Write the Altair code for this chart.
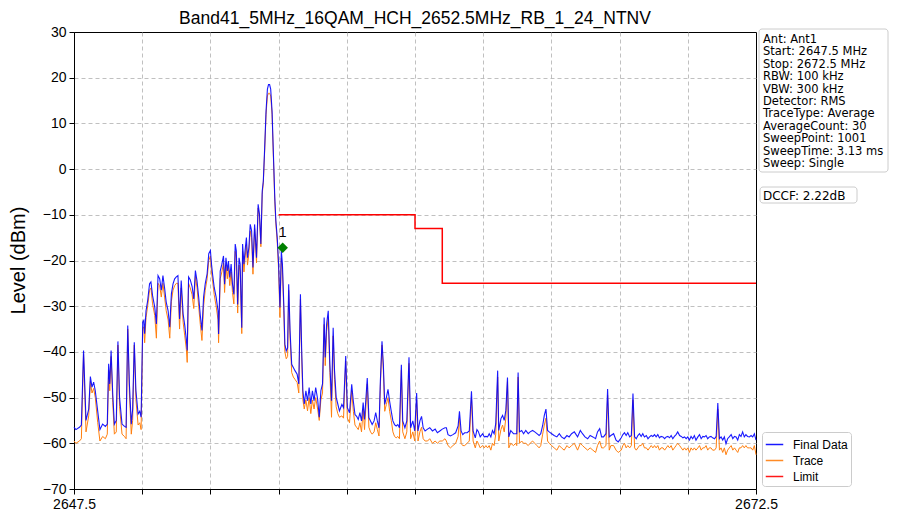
import altair as alt
import pandas as pd

TITLE = "Band41_5MHz_16QAM_HCH_2652.5MHz_RB_1_24_NTNV"
FONT = "Liberation Sans"
BOX_FONT = "DejaVu Sans"

# ---- spectrum (MHz, dBm) ----
FREQ_A = [2647.50, 2647.57, 2647.70, 2647.77, 2647.85, 2647.94, 2648.04, 2648.10, 2648.16, 2648.22,
          2648.28, 2648.37, 2648.45, 2648.55, 2648.65, 2648.72, 2648.77, 2648.81, 2648.86, 2648.92,
          2648.98, 2649.05, 2649.11, 2649.17, 2649.26, 2649.35, 2649.41, 2649.47, 2649.53, 2649.60,
          2649.65, 2649.71, 2649.77, 2649.85, 2649.91, 2649.96, 2650.02, 2650.06, 2650.09, 2650.14,
          2650.20, 2650.27, 2650.32, 2650.38, 2650.46, 2650.52, 2650.58, 2650.64, 2650.70, 2650.76,
          2650.82, 2650.88, 2650.95, 2651.01, 2651.07, 2651.13, 2651.19, 2651.25, 2651.31, 2651.37,
          2651.43, 2651.50, 2651.56, 2651.62, 2651.65, 2651.70, 2651.76, 2651.83, 2651.89, 2651.95,
          2652.01, 2652.07, 2652.13, 2652.19, 2652.25, 2652.31, 2652.38, 2652.44, 2652.50]
FINAL_A = [-56.5, -57.0, -56.5, -56.0, -39.7, -55.0, -52.5, -45.4, -47.7, -46.6,
           -48.5, -53.0, -57.0, -55.8, -56.3, -55.8, -42.6, -47.0, -39.7, -49.2,
           -55.8, -55.0, -37.7, -50.0, -55.8, -56.3, -56.5, -34.2, -47.0, -55.8,
           -52.5, -37.9, -48.5, -53.6, -53.0, -54.3, -33.5, -33.1, -36.0, -31.0,
           -28.8, -25.1, -24.7, -27.7, -30.2, -33.9, -23.3, -24.0, -26.5, -23.3,
           -26.0, -29.1, -31.0, -34.6, -27.3, -25.1, -24.0, -23.6, -23.3, -32.8,
           -24.4, -31.7, -34.2, -37.5, -39.7, -23.6, -24.2, -25.7, -28.4, -22.2,
           -24.5, -28.0, -32.0, -35.3, -28.0, -25.1, -22.9, -18.5, -17.8]
TRACE_A = [-59.5, -60.0, -59.5, -59.0, -40.5, -57.5, -54.0, -46.5, -49.0, -48.0,
           -50.0, -55.5, -59.5, -58.5, -59.0, -58.0, -44.0, -48.5, -41.0, -51.0,
           -58.0, -57.5, -38.5, -52.0, -58.0, -58.5, -59.0, -35.0, -49.0, -58.0,
           -55.0, -38.5, -50.5, -56.0, -55.5, -57.0, -35.0, -34.5, -38.0, -32.5,
           -30.0, -26.5, -26.0, -29.5, -32.0, -37.0, -25.0, -25.5, -28.0, -25.0,
           -28.0, -31.0, -33.0, -37.0, -29.0, -26.5, -25.5, -25.0, -25.0, -35.0,
           -26.0, -33.5, -36.5, -39.5, -42.3, -25.0, -26.0, -27.5, -30.5, -23.5,
           -26.0, -30.0, -34.0, -37.5, -30.0, -26.5, -24.0, -20.0, -19.0]

FREQ_B = [2652.54, 2652.58, 2652.64, 2652.71, 2652.78, 2652.80, 2652.86, 2652.92, 2652.98, 2653.02,
          2653.07, 2653.12, 2653.16, 2653.21, 2653.26, 2653.31, 2653.36, 2653.41, 2653.45, 2653.50,
          2653.55, 2653.59, 2653.65, 2653.68, 2653.73, 2653.77, 2653.82, 2653.86, 2653.91, 2653.96,
          2654.01, 2654.06, 2654.12, 2654.15, 2654.19, 2654.25, 2654.30, 2654.35, 2654.40, 2654.44,
          2654.49, 2654.54, 2654.59, 2654.63, 2654.67, 2654.71, 2654.76, 2654.81, 2654.86, 2654.90,
          2654.95, 2655.00, 2655.05, 2655.10, 2655.14, 2655.19, 2655.23, 2655.28, 2655.33, 2655.37,
          2655.42, 2655.48, 2655.54, 2655.60, 2655.68, 2655.74, 2655.80, 2655.85, 2655.89, 2655.94,
          2656.00, 2656.06, 2656.12, 2656.18, 2656.24, 2656.30, 2656.36, 2656.43, 2656.49, 2656.55,
          2656.61, 2656.67, 2656.71, 2656.76, 2656.82, 2656.88, 2656.94, 2657.00, 2657.05, 2657.11,
          2657.17, 2657.23]
FINAL_B = [-20.8, -23.0, -25.9, -28.0, -31.0, -36.1, -22.3, -20.8, -19.0, -25.2,
           -19.4, -22.3, -20.1, -23.7, -20.8, -25.2, -27.4, -16.4, -17.9, -29.6,
           -19.4, -20.8, -34.7, -16.4, -20.8, -17.9, -15.0, -19.4, -17.2, -12.1,
           -13.5, -21.5, -12.1, -15.0, -19.4, -7.7, -9.9, -16.4, -4.8, -2.6,
           4.7, 12.7, 17.5, 18.5, 18.5, 17.5, 12.7, 3.2, -6.2, -11.3,
           -15.0, -20.8, -30.3, -17.9, -20.8, -29.6, -38.3, -39.8, -39.1, -25.2,
           -35.4, -42.7, -43.4, -44.1, -44.9, -47.0, -27.4, -40.5, -48.5, -51.4,
           -48.5, -50.7, -47.8, -51.4, -48.5, -50.7, -47.8, -50.3, -54.3, -48.5,
           -47.0, -32.5, -41.2, -33.9, -31.0, -42.7, -50.7, -34.7, -44.1, -49.9,
           -51.4, -52.9]
TRACE_B = [-22.5, -24.5, -27.5, -30.0, -33.0, -38.0, -24.0, -22.5, -20.5, -27.0,
           -21.0, -24.0, -21.5, -25.5, -22.5, -27.0, -29.5, -18.0, -19.5, -31.5,
           -21.0, -22.5, -36.0, -18.0, -22.5, -19.5, -16.5, -21.0, -18.5, -13.5,
           -15.0, -23.0, -13.0, -16.0, -20.5, -8.5, -10.5, -17.0, -5.5, -3.0,
           4.0, 12.0, 16.0, 16.6, 16.6, 16.0, 12.0, 2.5, -7.0, -12.0,
           -16.0, -22.0, -32.5, -19.5, -22.0, -31.0, -40.0, -41.5, -41.0, -26.5,
           -37.0, -44.5, -45.5, -46.0, -46.7, -49.0, -28.5, -42.0, -50.5, -52.5,
           -50.5, -52.9, -50.0, -53.5, -50.5, -52.5, -50.0, -52.5, -55.0, -50.5,
           -49.0, -34.0, -43.0, -35.5, -32.5, -44.5, -54.3, -36.5, -46.0, -52.0,
           -53.5, -54.3]

FREQ_C = [2657.32, 2657.38, 2657.46, 2657.52, 2657.60, 2657.68, 2657.74, 2657.80, 2657.86, 2657.92,
          2657.98, 2658.04, 2658.10, 2658.15, 2658.25, 2658.31, 2658.37, 2658.43, 2658.50, 2658.56,
          2658.62, 2658.68, 2658.73, 2658.79, 2658.84, 2658.89, 2658.95, 2659.01, 2659.07, 2659.13,
          2659.19, 2659.25, 2659.31, 2659.37, 2659.43, 2659.50, 2659.55, 2659.63, 2659.70, 2659.78,
          2659.84, 2659.92, 2659.99, 2660.06, 2660.11, 2660.18, 2660.24, 2660.30, 2660.37, 2660.46,
          2660.54, 2660.64, 2660.74, 2660.82, 2660.91, 2661.00, 2661.10, 2661.15, 2661.21, 2661.30,
          2661.39, 2661.49, 2661.58, 2661.63, 2661.69, 2661.75, 2661.82, 2661.91, 2661.99, 2662.07,
          2662.13, 2662.21, 2662.27]
FINAL_C = [-51.5, -52.2, -40.9, -52.2, -53.3, -47.1, -50.8, -53.7, -54.1, -54.8,
           -53.3, -55.1, -51.1, -54.8, -45.7, -54.4, -55.1, -55.9, -55.1, -53.3,
           -55.1, -56.6, -46.4, -37.7, -42.8, -51.5, -50.0, -48.2, -50.8, -53.0,
           -55.1, -55.9, -56.2, -55.9, -56.6, -42.8, -55.1, -56.6, -55.1, -41.2,
           -56.6, -55.1, -57.3, -49.0, -57.3, -55.1, -54.1, -56.6, -57.3, -56.9,
           -56.6, -57.3, -56.9, -57.7, -57.3, -56.9, -56.6, -56.6, -58.1, -58.4,
           -58.1, -57.7, -56.2, -53.0, -57.3, -58.1, -57.7, -57.7, -57.3, -48.6,
           -57.3, -58.8, -57.0]
TRACE_C = [-54.0, -54.5, -42.0, -54.5, -55.5, -48.5, -53.0, -56.0, -56.5, -57.0,
           -55.5, -57.5, -52.5, -57.0, -47.0, -56.5, -57.5, -58.0, -57.5, -55.5,
           -57.0, -58.4, -47.5, -38.5, -44.0, -53.0, -51.5, -50.0, -53.0, -55.0,
           -57.5, -58.5, -58.8, -58.5, -59.0, -44.0, -57.5, -59.0, -57.5, -42.5,
           -59.0, -57.5, -59.5, -50.5, -59.5, -57.5, -56.5, -59.0, -59.5, -59.5,
           -59.0, -60.0, -59.5, -60.0, -59.5, -59.5, -59.0, -59.5, -60.5, -61.0,
           -60.5, -60.0, -58.5, -54.5, -60.0, -60.5, -60.5, -60.0, -59.5, -50.0,
           -59.5, -61.0, -59.5]

FREQ_D = [2662.32, 2662.39, 2662.48, 2662.54, 2662.60, 2662.66, 2662.72, 2662.78, 2662.84, 2662.90,
          2662.96, 2663.03, 2663.07, 2663.15, 2663.21, 2663.27, 2663.33, 2663.39, 2663.44, 2663.51,
          2663.61, 2663.69, 2663.73, 2663.78, 2663.83, 2663.91, 2663.98, 2664.06, 2664.15, 2664.22,
          2664.31, 2664.39, 2664.47, 2664.55, 2664.61, 2664.68, 2664.74, 2664.80, 2664.86, 2664.92,
          2665.01, 2665.10, 2665.20, 2665.29, 2665.37, 2665.47, 2665.57, 2665.65, 2665.74, 2665.84,
          2665.96, 2666.06, 2666.14, 2666.23, 2666.33, 2666.42, 2666.52, 2666.62, 2666.69, 2666.77,
          2666.84, 2666.91, 2667.00, 2667.06, 2667.12, 2667.18, 2667.28, 2667.37, 2667.45]
FINAL_D = [-57.4, -58.6, -57.9, -58.6, -58.5, -58.6, -57.9, -58.6, -57.2, -57.9,
           -55.7, -44.1, -57.2, -54.6, -53.9, -55.0, -52.8, -45.6, -58.6, -57.2,
           -57.9, -57.9, -57.9, -44.5, -57.5, -57.2, -57.9, -57.2, -57.9, -57.5,
           -57.2, -57.5, -57.9, -58.3, -57.9, -56.1, -53.9, -52.5, -57.2, -57.5,
           -57.9, -58.3, -58.6, -57.9, -58.6, -59.0, -58.3, -58.6, -57.9, -57.5,
           -58.6, -57.2, -57.9, -58.6, -59.0, -58.3, -58.6, -59.0, -57.5, -56.8,
           -58.6, -58.6, -57.9, -48.1, -58.6, -58.3, -57.9, -59.3, -59.7]
TRACE_D = [-60.0, -61.0, -60.5, -61.0, -60.5, -61.0, -60.5, -61.5, -60.0, -60.5,
           -58.0, -45.5, -59.5, -57.0, -56.0, -57.5, -54.5, -46.5, -61.0, -60.0,
           -60.5, -60.0, -60.5, -45.5, -60.0, -59.5, -60.0, -60.0, -60.5, -60.0,
           -59.5, -60.0, -60.5, -61.0, -60.5, -58.0, -56.0, -54.5, -59.5, -60.0,
           -60.5, -61.0, -61.5, -60.5, -61.0, -61.5, -60.5, -61.0, -60.5, -60.0,
           -61.5, -60.0, -60.5, -61.0, -61.5, -61.0, -61.5, -62.0, -60.5, -59.5,
           -61.0, -61.0, -60.5, -49.5, -61.5, -60.5, -60.5, -61.5, -62.0]

FREQ_E = [2667.56, 2667.62, 2667.68, 2667.74, 2667.80, 2667.87, 2667.93, 2667.99,
          2668.05, 2668.11, 2668.17, 2668.23, 2668.29, 2668.35, 2668.41, 2668.48,
          2668.54, 2668.60, 2668.66, 2668.72, 2668.78, 2668.84, 2668.90, 2668.96,
          2669.02, 2669.09, 2669.15, 2669.21, 2669.27, 2669.33, 2669.39, 2669.45,
          2669.51, 2669.57, 2669.63, 2669.70, 2669.76, 2669.82, 2669.88, 2669.94,
          2670.00, 2670.06, 2670.12, 2670.18, 2670.24, 2670.30, 2670.37, 2670.43,
          2670.49, 2670.55, 2670.61, 2670.67, 2670.73, 2670.79, 2670.85, 2670.91, 2670.98,
          2671.04, 2671.10, 2671.16, 2671.22, 2671.28, 2671.34, 2671.40, 2671.46,
          2671.52, 2671.59, 2671.65, 2671.71, 2671.77, 2671.83, 2671.89, 2671.95,
          2672.01, 2672.07, 2672.13, 2672.19, 2672.26, 2672.32, 2672.38, 2672.44, 2672.50]
FINAL_E = [-58.8, -58.1, -57.7, -58.3, -57.7, -58.6, -58.3, -49.1,
           -58.6, -59.0, -58.3, -57.9, -58.5, -57.9, -58.6, -58.3,
           -59.0, -58.6, -58.3, -58.5, -58.1, -58.6, -58.1, -58.8,
           -58.5, -58.6, -59.0, -58.6, -58.5, -58.8, -58.3, -59.0,
           -58.5, -58.1, -57.5, -58.3, -58.5, -58.8, -58.6, -59.0,
           -58.6, -59.3, -58.5, -59.0, -58.3, -59.3, -58.6, -58.1,
           -59.0, -58.5, -58.6, -58.3, -59.0, -58.6, -58.5, -58.8, -59.0,
           -58.5, -51.2, -59.0, -58.6, -59.3, -58.6, -60.1, -59.0,
           -58.6, -58.1, -59.0, -58.5, -58.6, -59.3, -58.1, -58.5,
           -57.5, -58.6, -58.1, -58.5, -58.6, -58.3, -58.6, -57.9, -59.3]
TRACE_E = [-61.5, -60.5, -60.0, -61.0, -60.5, -61.0, -60.5, -50.5,
           -61.0, -61.5, -61.0, -60.5, -60.5, -60.0, -61.0, -61.0,
           -61.5, -61.0, -60.5, -61.0, -60.5, -61.0, -60.5, -61.5,
           -61.0, -61.0, -61.5, -61.0, -60.5, -61.0, -60.5, -61.5,
           -61.0, -60.5, -60.0, -60.5, -61.0, -61.5, -61.0, -61.5,
           -61.0, -62.0, -61.0, -61.5, -61.0, -61.5, -61.0, -60.5,
           -61.5, -61.0, -61.0, -60.5, -61.5, -61.0, -61.0, -61.5, -61.5,
           -61.0, -52.5, -61.5, -61.0, -62.0, -61.0, -62.5, -61.5,
           -61.0, -60.5, -61.5, -61.0, -61.5, -62.0, -61.0, -61.0,
           -60.5, -61.0, -60.5, -61.0, -61.0, -61.0, -61.5, -60.5, -62.5]

FREQ = FREQ_A + FREQ_B + FREQ_C + FREQ_D + FREQ_E
FINAL = FINAL_A + FINAL_B + FINAL_C + FINAL_D + FINAL_E
TRACE = TRACE_A + TRACE_B + TRACE_C + TRACE_D + TRACE_E
assert len(FREQ) == len(FINAL) == len(TRACE)

LIMIT_FREQ = [2655.0, 2660.0, 2661.0, 2672.5]
LIMIT_LEVEL = [-10.0, -13.0, -25.0, -25.0]

MARKER_FREQ = [2655.15]
MARKER_LEVEL = [-17.2]
MARKER_LABEL = ["1"]

SERIES = ["Final Data", "Trace", "Limit"]
COLORS = ["#0000ff", "#ff7f0e", "#ff0000"]

X_TICKS = [2647.5, 2650.0, 2652.5, 2655.0, 2657.5, 2660.0, 2662.5, 2665.0, 2667.5, 2670.0, 2672.5]
Y_TICKS = [-70, -60, -50, -40, -30, -20, -10, 0, 10, 20, 30]

INFO_LINES = ["Ant: Ant1", "Start: 2647.5 MHz", "Stop: 2672.5 MHz", "RBW: 100 kHz",
              "VBW: 300 kHz", "Detector: RMS", "TraceType: Average", "AverageCount: 30",
              "SweepPoint: 1001", "SweepTime: 3.13 ms", "Sweep: Single"]
DCCF_TEXT = "DCCF: 2.22dB"

df_final = pd.DataFrame({"freq": FREQ, "level": FINAL, "series": "Final Data"})
df_trace = pd.DataFrame({"freq": FREQ, "level": TRACE, "series": "Trace"})
df_limit = pd.DataFrame({"freq": LIMIT_FREQ, "level": LIMIT_LEVEL, "series": "Limit"})
df_marker = pd.DataFrame({"freq": MARKER_FREQ, "level": MARKER_LEVEL, "label": MARKER_LABEL})

x_edge = "datum.value == 2647.5 || datum.value == 2672.5"
y_edge = "datum.value == 30 || datum.value == -70"

x_enc = alt.X("freq:Q",
              scale=alt.Scale(domain=[2647.5, 2672.5], nice=False, zero=False),
              axis=alt.Axis(values=X_TICKS, title=None, labelFontSize=14, labelFlush=False,
                            gridOpacity={"condition": {"test": x_edge, "value": 0}, "value": 1},
                            labelExpr="(" + x_edge + ") ? format(datum.value, '.1f') : ''"))
y_enc = alt.Y("level:Q",
              scale=alt.Scale(domain=[-70, 30], nice=False, zero=False),
              axis=alt.Axis(values=Y_TICKS, title="Level (dBm)", format="d", labelFontSize=14,
                            labelFlush=False,
                            gridOpacity={"condition": {"test": y_edge, "value": 0}, "value": 1},
                            titleFontSize=20, titleFontWeight="normal", titleX=-56, titleY=228,
                            titleAngle=-90, titleAlign="center", titleBaseline="middle"))
color_enc = alt.Color("series:N",
                      scale=alt.Scale(domain=SERIES, range=COLORS),
                      legend=alt.Legend(title=None, orient="none", legendX=688, legendY=400,
                                        symbolType="stroke", symbolSize=306, symbolStrokeWidth=1.5,
                                        labelFontSize=12, labelFont=FONT, labelOffset=9,
                                        strokeColor="#cccccc", fillColor="white", padding=3,
                                        cornerRadius=3, rowPadding=0))

trace_line = alt.Chart(df_trace).mark_line(strokeWidth=1).encode(x=x_enc, y=y_enc, color=color_enc)
final_line = alt.Chart(df_final).mark_line(strokeWidth=1.1, opacity=0.9).encode(x=x_enc, y=y_enc, color=color_enc)
limit_line = alt.Chart(df_limit).mark_line(strokeWidth=1.5, interpolate="step-after").encode(
    x=x_enc, y=y_enc, color=color_enc)

marker = alt.Chart(df_marker).mark_point(shape="diamond", filled=True, color="green", size=110, opacity=1).encode(
    x=x_enc, y=y_enc)
marker_label = alt.Chart(df_marker).mark_text(fontSize=14, font=FONT, dy=-15, color="black").encode(
    x=x_enc, y=y_enc, text="label:N")

info_df = pd.DataFrame({"t": ["\n".join(INFO_LINES)]})
info_box = alt.Chart(info_df).mark_rect(fill="white", stroke="#cccccc", strokeWidth=1, cornerRadius=3).encode(
    x=alt.value(685), x2=alt.value(814), y=alt.value(-3), y2=alt.value(140))
info_text = alt.Chart(info_df).mark_text(align="left", baseline="middle", lineBreak="\n", lineHeight=12.4,
                                         fontSize=11.5, font=BOX_FONT, color="black").encode(
    x=alt.value(689), y=alt.value(8), text="t:N")

dccf_df = pd.DataFrame({"t": [DCCF_TEXT]})
dccf_box = alt.Chart(dccf_df).mark_rect(fill="white", stroke="#cccccc", strokeWidth=1, cornerRadius=3).encode(
    x=alt.value(686), x2=alt.value(783), y=alt.value(155), y2=alt.value(171))
dccf_text = alt.Chart(dccf_df).mark_text(align="left", baseline="middle", fontSize=12, font=BOX_FONT,
                                         color="black").encode(
    x=alt.value(689), y=alt.value(163.5), text="t:N")

chart = alt.layer(
    trace_line, final_line, limit_line, marker, marker_label,
    info_box, info_text, dccf_box, dccf_text
).properties(
    width=682, height=457,
    title=alt.TitleParams(TITLE, fontSize=17.5, font=FONT, fontWeight="normal", color="black",
                          anchor="middle", offset=-2),
    autosize=alt.AutoSizeParams(type="none"),
    padding={"left": 66, "top": 24, "right": 133, "bottom": 24},
).configure_view(
    stroke="black", strokeWidth=1
).configure_axis(
    grid=True, gridColor="#b0b0b0", gridDash=[4, 3], gridWidth=0.8,
    domainColor="black", domainWidth=1, tickColor="black", tickSize=5,
    labelColor="black", labelFont=FONT, titleFont=FONT, titleColor="black",
    labelPadding=3
).configure_legend(
    labelColor="black"
)

chart.save("out.html", embed_options={"renderer": "svg", "actions": False})
